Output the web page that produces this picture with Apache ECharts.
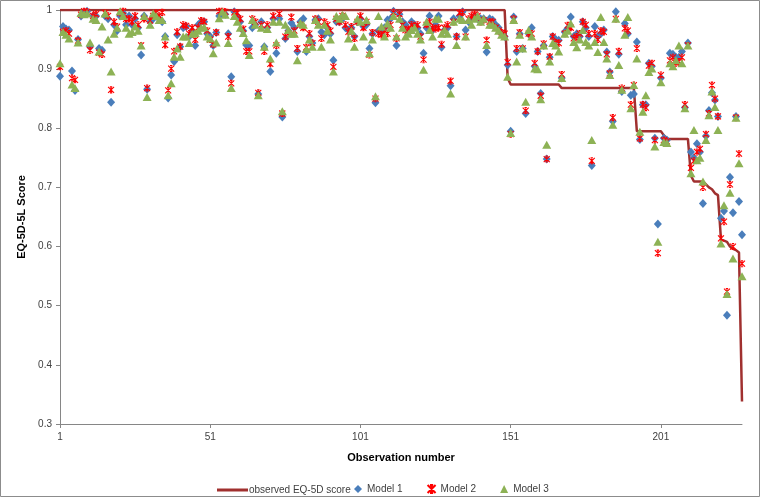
<!DOCTYPE html>
<html><head><meta charset="utf-8">
<script src="https://cdn.jsdelivr.net/npm/echarts@6/dist/echarts.min.js"></script>
<style>html,body{margin:0;padding:0;background:#fff}#c{width:760px;height:497px}</style>
</head><body><div id="c"></div>
<script>
var xTickLabels = ['1','51','101','151','201'];
var yTicks = [0.3,0.4,0.5,0.6,0.7,0.8,0.9,1];

var observed = [
1,1,1,1,1,1,1,1,1,1,1,1,1,1,1,1,1,1,1,1,1,1,1,1,1,
1,1,1,1,1,1,1,1,1,1,1,1,1,1,1,1,1,1,1,1,1,1,1,1,1,
1,1,1,1,1,1,1,1,1,1,1,1,1,1,1,1,1,1,1,1,1,1,1,1,1,
1,1,1,1,1,1,1,1,1,1,1,1,1,1,1,1,1,1,1,1,1,1,1,1,1,
1,1,1,1,1,1,1,1,1,1,1,1,1,1,1,1,1,1,1,1,1,1,1,1,1,
1,1,1,1,1,1,1,1,1,1,1,1,1,1,1,1,1,1,1,1,1,1,1,1,
0.885,
0.874,0.874,0.874,0.874,0.874,0.874,0.874,0.874,0.874,0.874,0.874,0.874,0.874,0.874,0.874,0.874,0.874,
0.868,0.868,0.868,0.868,0.868,0.868,0.868,0.868,0.868,0.868,0.868,0.868,0.868,0.868,0.868,0.868,0.868,0.868,0.868,0.868,0.868,0.868,0.868,0.868,0.868,
0.795,0.795,0.795,0.795,0.795,0.795,0.795,0.795,0.795,
0.788,
0.782,0.782,0.782,0.782,0.782,0.782,0.782,0.782,
0.72,
0.71,0.71,0.71,0.71,
0.705,0.70,0.697,0.69,0.687,
0.612,0.61,0.608,0.60,0.596,0.594,0.59,0.338
];

var model1 = [
0.888,0.972,0.968,0.966,0.897,0.864,0.95,0.99,0.996,0.998,
0.938,0.99,0.99,0.935,0.932,0.99,0.985,0.844,0.975,0.965,
0.99,0.995,0.975,0.99,0.975,0.985,0.97,0.924,0.99,0.866,
0.98,0.985,0.99,0.985,0.98,0.955,0.851,0.89,0.913,0.958,
0.938,0.97,0.972,0.955,0.965,0.94,0.975,0.98,0.98,0.96,
0.955,0.94,0.962,0.99,0.995,0.993,0.96,0.887,0.997,0.99,
0.98,0.965,0.941,0.94,0.97,0.975,0.858,0.98,0.938,0.97,
0.896,0.985,0.927,0.985,0.819,0.952,0.965,0.978,0.97,0.93,
0.98,0.985,0.93,0.955,0.944,0.983,0.985,0.963,0.958,0.97,
0.96,0.915,0.98,0.98,0.985,0.97,0.966,0.97,0.955,0.98,
0.985,0.972,0.975,0.935,0.96,0.843,0.965,0.962,0.97,0.983,
0.985,0.998,0.94,0.993,0.98,0.975,0.965,0.98,0.975,0.97,
0.96,0.927,0.97,0.99,0.966,0.975,0.99,0.937,0.966,0.97,
0.872,0.985,0.955,0.99,0.997,0.966,0.98,0.985,0.99,0.985,
0.985,0.985,0.929,0.985,0.983,0.975,0.97,0.96,0.955,0.907,
0.795,0.988,0.93,0.96,0.935,0.825,0.96,0.97,0.905,0.93,
0.859,0.94,0.748,0.92,0.955,0.95,0.949,0.885,0.963,0.969,
0.988,0.955,0.96,0.955,0.98,0.97,0.955,0.737,0.972,0.955,
0.96,0.966,0.929,0.895,0.812,0.997,0.925,0.862,0.977,0.96,
0.856,0.858,0.946,0.781,0.84,0.84,0.91,0.905,0.783,0.638,
0.885,0.783,0.78,0.927,0.925,0.92,0.92,0.93,0.835,0.944,
0.76,0.75,0.774,0.76,0.673,0.787,0.83,0.86,0.848,0.82,
0.648,0.66,0.484,0.717,0.657,0.82,0.676,0.62
];

var model2 = [
0.904,0.963,0.965,0.96,0.885,0.882,0.948,0.992,0.998,0.997,
0.932,0.99,0.993,0.928,0.925,0.995,0.99,0.865,0.98,0.972,
0.995,0.998,0.985,0.985,0.98,0.99,0.975,0.94,0.985,0.868,
0.982,0.99,0.995,0.99,0.996,0.941,0.864,0.901,0.93,0.963,
0.938,0.975,0.973,0.96,0.97,0.95,0.97,0.982,0.98,0.965,
0.95,0.942,0.962,0.998,0.998,0.997,0.955,0.876,0.996,0.995,
0.985,0.968,0.93,0.93,0.985,0.98,0.86,0.975,0.93,0.975,
0.909,0.99,0.94,0.994,0.825,0.955,0.96,0.988,0.965,0.935,
0.975,0.97,0.937,0.96,0.944,0.985,0.98,0.952,0.98,0.975,
0.965,0.904,0.985,0.98,0.99,0.975,0.963,0.972,0.952,0.98,
0.99,0.97,0.98,0.924,0.962,0.85,0.96,0.958,0.965,0.96,
0.975,0.996,0.952,0.993,0.975,0.966,0.968,0.975,0.972,0.975,
0.955,0.916,0.975,0.98,0.97,0.968,0.97,0.942,0.97,0.975,
0.88,0.98,0.955,0.995,0.996,0.955,0.985,0.99,0.993,0.99,
0.98,0.983,0.949,0.98,0.98,0.97,0.965,0.962,0.96,0.912,
0.79,0.985,0.935,0.962,0.935,0.83,0.96,0.96,0.91,0.93,
0.855,0.943,0.748,0.921,0.955,0.945,0.944,0.891,0.96,0.974,
0.97,0.952,0.955,0.96,0.98,0.975,0.96,0.745,0.96,0.95,
0.965,0.963,0.925,0.893,0.818,0.985,0.93,0.868,0.969,0.965,
0.84,0.873,0.935,0.783,0.84,0.835,0.906,0.91,0.78,0.589,
0.89,0.78,0.778,0.915,0.92,0.91,0.913,0.92,0.84,0.94,
0.733,0.745,0.76,0.765,0.70,0.79,0.825,0.873,0.85,0.82,
0.614,0.642,0.524,0.705,0.6,0.818,0.757,0.571
];

var model3 = [
0.91,0.963,0.958,0.952,0.874,0.868,0.945,0.995,0.993,0.994,
0.945,0.985,0.983,0.93,0.972,0.994,0.95,0.896,0.96,0.97,
0.998,0.99,0.97,0.96,0.963,0.972,0.965,0.94,0.99,0.853,
0.975,0.994,0.99,0.983,0.983,0.955,0.856,0.876,0.921,0.935,
0.921,0.955,0.955,0.944,0.96,0.961,0.965,0.97,0.971,0.955,
0.952,0.927,0.945,0.986,0.997,0.992,0.944,0.868,0.99,0.98,
0.97,0.961,0.949,0.924,0.983,0.975,0.856,0.97,0.938,0.968,
0.918,0.98,0.945,0.98,0.829,0.975,0.966,0.96,0.96,0.915,
0.978,0.975,0.934,0.95,0.938,0.983,0.975,0.938,0.975,0.965,
0.95,0.896,0.99,0.985,0.992,0.99,0.952,0.965,0.938,0.985,
0.98,0.955,0.983,0.927,0.95,0.854,0.99,0.972,0.955,0.977,
0.97,0.99,0.955,0.985,0.97,0.955,0.96,0.966,0.97,0.96,
0.95,0.899,0.98,0.966,0.955,0.985,0.985,0.96,0.966,0.96,
0.859,0.98,0.941,0.985,0.983,0.955,0.983,0.975,0.985,0.99,
0.98,0.985,0.941,0.975,0.975,0.97,0.965,0.958,0.955,0.887,
0.792,0.983,0.913,0.958,0.935,0.845,0.966,0.955,0.901,0.9,
0.849,0.94,0.772,0.913,0.944,0.94,0.93,0.885,0.96,0.965,
0.977,0.946,0.937,0.95,0.966,0.946,0.94,0.78,0.946,0.929,
0.988,0.946,0.918,0.89,0.806,0.985,0.907,0.865,0.958,0.988,
0.834,0.873,0.918,0.794,0.828,0.856,0.895,0.901,0.769,0.608,
0.878,0.777,0.775,0.91,0.905,0.915,0.94,0.91,0.834,0.94,
0.724,0.797,0.746,0.75,0.71,0.78,0.822,0.862,0.836,0.797,
0.605,0.67,0.52,0.691,0.58,0.818,0.741,0.55
];

var categories = [];
for (var i = 1; i <= observed.length; i++) categories.push(String(i));

var FONT = "'Liberation Sans',sans-serif";
var TXT = '#404040';
var AX = '#868686';
var xMark = 'path://M0,0L10,10M10,0L0,10M5,1L5,9M3,0L7,0M3,10L7,10';

var chart = echarts.init(document.getElementById('c'), null, {renderer: 'canvas'});
chart.setOption({
  animation: false,
  backgroundColor: '#fff',
  graphic: [{type:'rect', shape:{x:0.5,y:0.5,width:759,height:496}, style:{fill:'none', stroke:'#8c8c8c', lineWidth:1}, silent:true}],
  grid: {left: 60, right: 18, top: 10, bottom: 73},
  xAxis: {
    type: 'category', data: categories, boundaryGap: false,
    name: 'Observation number', nameLocation: 'middle', nameGap: 28,
    nameTextStyle: {fontFamily: FONT, fontWeight: 'bold', fontSize: 11, color: '#000'},
    axisLine: {lineStyle: {color: AX, width: 1}},
    axisTick: {show: true, interval: 49, length: 4, lineStyle: {color: AX}},
    axisLabel: {interval: 49, fontFamily: FONT, fontSize: 10, color: TXT, margin: 8,
      formatter: function(v){ return xTickLabels.indexOf(v) >= 0 ? v : ''; }},
    splitLine: {show: false}
  },
  yAxis: {
    type: 'value', min: 0.3, max: 1, interval: 0.1,
    name: 'EQ-5D-5L Score', nameLocation: 'middle', nameGap: 31,
    nameTextStyle: {fontFamily: FONT, fontWeight: 'bold', fontSize: 11, color: '#000'},
    axisLine: {show: true, lineStyle: {color: AX, width: 1}},
    axisTick: {show: true, length: 4, lineStyle: {color: AX}},
    axisLabel: {fontFamily: FONT, fontSize: 10, color: TXT, margin: 8,
      formatter: function(v){ var r = Math.round(v*10)/10; return r === 1 ? '1' : r.toFixed(1); }},
    splitLine: {show: false}
  },
  legend: [
    {data: ['observed EQ-5D score'], left: 212, top: 480, itemWidth: 31, itemHeight: 3, itemGap: 0,
     icon: 'rect', textStyle: {fontFamily: FONT, fontSize: 10, color: TXT, padding: [0,0,0,-4]}},
    {data: ['Model 1','Model 2','Model 3'], left: 349, top: 479, itemWidth: 8, itemHeight: 8, itemGap: 24,
     textStyle: {fontFamily: FONT, fontSize: 10, color: TXT}}
  ],
  series: [
    {name: 'observed EQ-5D score', type: 'line', data: observed, showSymbol: false, symbol: 'none',
     lineStyle: {color: '#A0302F', width: 2.5}, itemStyle: {color: '#A0302F'}, z: 1},
    {name: 'Model 1', type: 'scatter', data: model1, symbol: 'diamond', symbolSize: [8,9],
     itemStyle: {color: '#4A7EBB', opacity: 1}, z: 2},
    {name: 'Model 2', type: 'scatter', data: model2, symbol: xMark, symbolSize: 6,
     itemStyle: {color: '#FF0000', borderColor: '#FF0000', borderWidth: 1.1, opacity: 1}, z: 3},
    {name: 'Model 3', type: 'scatter', data: model3, symbol: 'triangle', symbolSize: [9,8],
     itemStyle: {color: '#8DB255', opacity: 1}, z: 4}
  ]
});
</script>
</body></html>
